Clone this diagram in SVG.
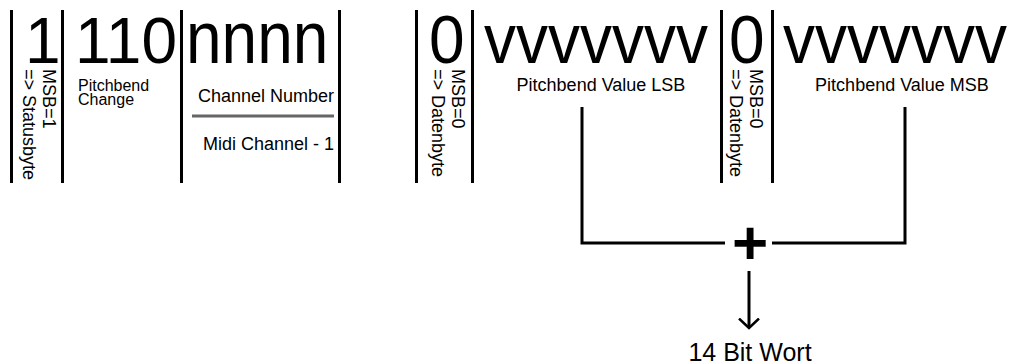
<svg xmlns="http://www.w3.org/2000/svg" width="1012" height="364" viewBox="0 0 1012 364">
  <style>
    text { font-family: "Liberation Sans", Arial, sans-serif; fill: #000; }
    .big { font-size: 64px; }
    .lbl { font-size: 18px; }
    .small { font-size: 16px; }
    .rot { font-size: 18px; }
    .sep { stroke: #000; stroke-width: 3; }
    .wire { stroke: #000; stroke-width: 3; fill: none; }
  </style>
  <defs>
    <!-- open "V" arrowhead; x runs along the line direction -->
    <marker id="openArrow" viewBox="0 0 12 22" markerWidth="12" markerHeight="22" refX="10.5" refY="11" orient="auto" markerUnits="userSpaceOnUse">
      <path d="M1,1 L10.5,11 L1,21" fill="none" stroke="#000" stroke-width="2.5"/>
    </marker>
  </defs>

  <!-- Status byte: 1 110 nnnn -->
  <g id="status-byte">
    <line class="sep" x1="11.5" y1="10" x2="11.5" y2="183"/>
    <line class="sep" x1="62.5" y1="10" x2="62.5" y2="183"/>
    <line class="sep" x1="181.5" y1="10" x2="181.5" y2="183"/>
    <line class="sep" x1="339.5" y1="10" x2="339.5" y2="183"/>

    <g id="status-msb">
      <text class="big" x="25" y="63">1</text>
      <text class="rot" transform="translate(43,69) rotate(90)">MSB=1</text>
      <text class="rot" transform="translate(23,69) rotate(90)">=&gt; Statusbyte</text>
    </g>

    <g id="status-type">
      <text class="big" x="75" y="63">110</text>
      <text class="small" x="78" y="91">Pitchbend</text>
      <text class="small" x="78" y="105">Change</text>
    </g>

    <g id="status-channel">
      <text class="big" transform="translate(186,63) scale(1,1.15)">nnnn</text>
      <text class="lbl" x="334" y="102" text-anchor="end">Channel Number</text>
      <line x1="192" y1="116" x2="334" y2="116" stroke="#666" stroke-width="3"/>
      <text class="lbl" x="334" y="150" text-anchor="end">Midi Channel - 1</text>
    </g>
  </g>

  <!-- Data byte 1: LSB -->
  <g id="data-byte-lsb">
    <line class="sep" x1="416.5" y1="10" x2="416.5" y2="183"/>
    <line class="sep" x1="472.5" y1="10" x2="472.5" y2="183"/>
    <text class="big" transform="translate(429,63) scale(1,1.08)">0</text>
    <text class="rot" transform="translate(452,69) rotate(90)">MSB=0</text>
    <text class="rot" transform="translate(432,69) rotate(90)">=&gt; Datenbyte</text>
    <text class="big" transform="translate(484,63) scale(1,1.1)">vvvvvvv</text>
    <text class="lbl" x="601" y="91" text-anchor="middle">Pitchbend Value LSB</text>
  </g>

  <!-- Data byte 2: MSB -->
  <g id="data-byte-msb">
    <line class="sep" x1="721.5" y1="10" x2="721.5" y2="183"/>
    <line class="sep" x1="772.5" y1="10" x2="772.5" y2="183"/>
    <text class="big" transform="translate(729,63) scale(1,1.08)">0</text>
    <text class="rot" transform="translate(750,69) rotate(90)">MSB=0</text>
    <text class="rot" transform="translate(730,69) rotate(90)">=&gt; Datenbyte</text>
    <text class="big" transform="translate(783,63) scale(1,1.1)">vvvvvvv</text>
    <text class="lbl" x="902" y="91" text-anchor="middle">Pitchbend Value MSB</text>
  </g>

  <!-- Combining the two 7-bit values -->
  <g id="connectors">
    <polyline class="wire" points="582,107 582,243 725,243"/>
    <polyline class="wire" points="905,107 905,243 772,243"/>
    <line class="wire" x1="749" y1="271" x2="749" y2="328" stroke-width="2.5" marker-end="url(#openArrow)"/>
  </g>

  <g id="sum">
    <text x="750" y="264" text-anchor="middle" font-size="62" font-weight="bold">+</text>
  </g>

  <g id="result">
    <text x="750" y="361" text-anchor="middle" font-size="25">14 Bit Wort</text>
  </g>
</svg>
